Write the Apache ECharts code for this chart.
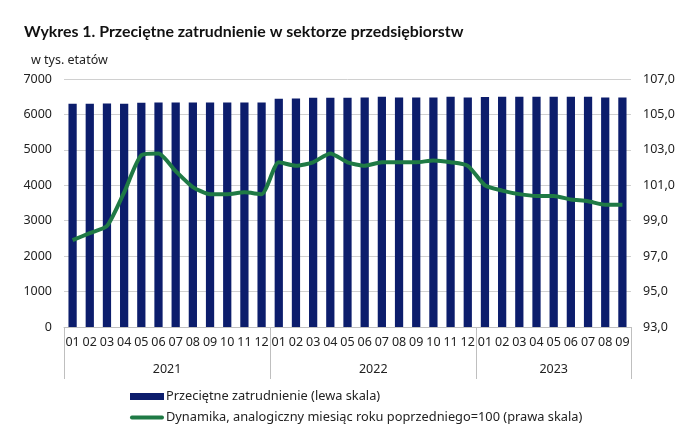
<!DOCTYPE html>
<html><head><meta charset="utf-8">
<script src="https://cdn.jsdelivr.net/npm/echarts@6/dist/echarts.min.js"></script>
<style>html,body{margin:0;padding:0;background:#fff}#c{width:696px;height:448px}</style>
</head><body><div id="c"></div>
<script>
const months = ['01','02','03','04','05','06','07','08','09','10','11','12',
  '01','02','03','04','05','06','07','08','09','10','11','12',
  '01','02','03','04','05','06','07','08','09'];
const years = ['2021','2022','2023'];
const employment = [6300,6300,6310,6300,6330,6340,6340,6340,6340,6340,6340,6340,
  6440,6450,6470,6470,6470,6480,6500,6480,6480,6480,6500,6480,
  6490,6500,6500,6500,6500,6500,6500,6480,6480];
const dynamics = [97.9,98.3,98.7,100.6,102.7,102.8,101.8,100.9,100.5,100.5,100.6,100.5,
  102.3,102.1,102.3,102.8,102.3,102.1,102.3,102.3,102.3,102.4,102.3,102.1,
  101.0,100.7,100.5,100.4,100.4,100.2,100.1,99.9,99.9];
const leftTicks = [0,1000,2000,3000,4000,5000,6000,7000];
const rightTicks = [93,95,97,99,101,103,105,107];
const seriesNames = ['Przeciętne zatrudnienie (lewa skala)','Dynamika, analogiczny miesiąc roku poprzedniego=100 (prawa skala)'];

const bounds = [0];
const yearCounts = [12,12,9];
yearCounts.forEach(n => bounds.push(bounds[bounds.length-1] + n));
const yearMid = {};
years.forEach((y,i) => { yearMid[(bounds[i]+bounds[i+1])/2] = y; });

const F = 'Noto Sans';
const chart = echarts.init(document.getElementById('c'));
chart.setOption({
  animation: false,
  textStyle: {fontFamily: F},
  title: [
    {text: 'Wykres 1. Przeciętne zatrudnienie w sektorze przedsiębiorstw', left: 19, top: 19,
     textStyle: {fontFamily: 'Lato', fontWeight: 'bold', fontSize: 15.9, color: '#111'}},
    {text: 'w tys. etatów', left: 26, top: 49, textStyle: {fontFamily: F, fontWeight: 'normal', fontSize: 12.5, color: '#222'}}
  ],
  legend: {
    orient: 'vertical', left: 125, top: 385, itemGap: 8, itemWidth: 34, itemHeight: 7,
    textStyle: {fontFamily: F, fontSize: 12.8, color: '#222', padding: [0,0,0,-3]},
    data: [
      {name: seriesNames[0], icon: 'rect'},
      {name: seriesNames[1], icon: 'path://M2,0 H34 A2,2 0 0 1 34,4 H2 A2,2 0 0 1 2,0 Z', itemStyle: {color: '#1f7a45'}}
    ]
  },
  grid: {left: 64, right: 65, top: 79, bottom: 121},
  xAxis: [
    {type: 'category', data: months, position: 'bottom',
     axisLine: {lineStyle: {color: '#bfbfbf'}}, axisTick: {show: false},
     axisLabel: {color: '#222', fontSize: 12.5, margin: 9, interval: 0}},
    {type: 'value', min: 0, max: bounds[bounds.length-1], position: 'bottom',
     axisLine: {show: false}, splitLine: {show: false},
     axisTick: {show: true, customValues: bounds, length: 52, lineStyle: {color: '#bfbfbf'}},
     axisLabel: {customValues: Object.keys(yearMid).map(Number), formatter: v => yearMid[v] || '',
       color: '#222', fontSize: 12.5, margin: 36}}
  ],
  yAxis: [
    {type: 'value', min: 0, max: 7000, interval: 1000,
     axisLine: {show: false}, axisTick: {show: false},
     axisLabel: {color: '#222', fontSize: 12.5, margin: 12, formatter: v => String(v)},
     splitLine: {lineStyle: {color: '#d0d0d0'}}},
    {type: 'value', min: 93, max: 107, position: 'right',
     axisLine: {show: false}, axisTick: {show: false}, splitLine: {show: false},
     axisLabel: {customValues: rightTicks, color: '#222', fontSize: 12.5, margin: 12,
       formatter: v => v.toFixed(1).replace('.', ',')}}
  ],
  series: [
    {name: seriesNames[0], type: 'bar', data: employment, xAxisIndex: 0, yAxisIndex: 0,
     barWidth: '48%', itemStyle: {color: '#0c1d6c'}},
    {name: seriesNames[1], type: 'line', data: dynamics, xAxisIndex: 0, yAxisIndex: 1,
     symbol: 'none', smooth: 0.2, lineStyle: {color: '#1f7a45', width: 4}, itemStyle: {color: '#1f7a45'}}
  ]
});
</script></body></html>
